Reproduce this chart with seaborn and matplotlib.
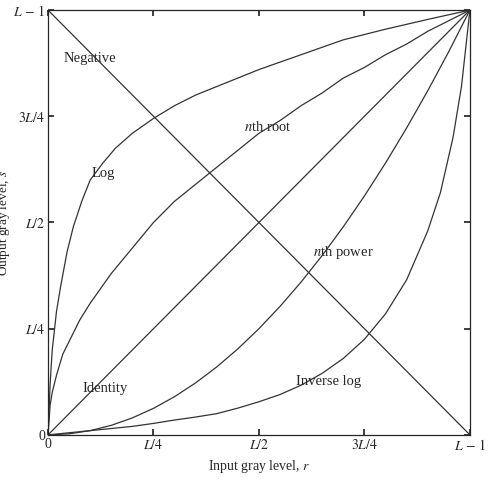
import matplotlib
matplotlib.use("Agg")
import matplotlib.pyplot as plt
import seaborn as sns

sns.set_theme(style="ticks")
plt.rcParams['font.family'] = ['Liberation Serif', 'DejaVu Serif']
plt.rcParams['mathtext.fontset'] = 'stix'

# values (r and s as fractions of L-1)
log_r = [0, 0.005, 0.01, 0.02, 0.03, 0.045, 0.06, 0.08, 0.1, 0.13, 0.16, 0.2, 0.25,
         0.3, 0.35, 0.4, 0.45, 0.5, 0.6, 0.7, 0.8, 0.9, 1.0]
log_s = [0, 0.12, 0.2, 0.29, 0.35, 0.43, 0.49, 0.55, 0.6, 0.64, 0.675, 0.71, 0.745,
         0.775, 0.8, 0.82, 0.84, 0.86, 0.895, 0.93, 0.955, 0.978, 1.0]

root_r = [0, 0.005, 0.01, 0.02, 0.035, 0.05, 0.075, 0.1, 0.15, 0.2, 0.25, 0.3, 0.35,
          0.4, 0.45, 0.5, 0.55, 0.6, 0.65, 0.7, 0.75, 0.8, 0.85, 0.9, 0.95, 1.0]
root_s = [0, 0.07, 0.1, 0.14, 0.19, 0.22, 0.27, 0.31, 0.38, 0.44, 0.5, 0.55, 0.59,
          0.63, 0.67, 0.71, 0.74, 0.775, 0.805, 0.84, 0.865, 0.895, 0.92, 0.95, 0.975, 1.0]

power_r = [0, 0.05, 0.1, 0.15, 0.2, 0.25, 0.3, 0.35, 0.4, 0.45, 0.5, 0.55, 0.6,
           0.65, 0.7, 0.75, 0.8, 0.85, 0.9, 0.95, 1.0]
power_s = [0, 0.0025, 0.01, 0.0225, 0.04, 0.0625, 0.09, 0.1225, 0.16, 0.2025, 0.25,
           0.3025, 0.36, 0.4225, 0.49, 0.5625, 0.64, 0.7225, 0.81, 0.9025, 1.0]

invlog_r = [0, 0.05, 0.1, 0.15, 0.2, 0.25, 0.3, 0.35, 0.4, 0.45, 0.5, 0.55, 0.6,
            0.65, 0.7, 0.75, 0.8, 0.85, 0.9, 0.93, 0.96, 0.98, 1.0]
invlog_s = [0, 0.005, 0.01, 0.015, 0.02, 0.027, 0.035, 0.042, 0.05, 0.063, 0.078,
            0.095, 0.117, 0.145, 0.18, 0.225, 0.285, 0.365, 0.48, 0.57, 0.7, 0.82, 1.0]

line_r = [0, 1]
identity_s = [0, 1]
negative_s = [1, 0]

ticks = [0, 0.25, 0.5, 0.75, 1]
tick_labels = ['0', '$L/4$', '$L/2$', '$3L/4$', '$L\\,-\\,1$']

fig = plt.figure(figsize=(4.9, 4.8), dpi=100)
ax = fig.add_axes([0.098, 0.094, 0.861, 0.885])

kw = dict(color='#333333', lw=0.9, ax=ax, sort=False)
sns.lineplot(x=line_r, y=negative_s, **kw)
sns.lineplot(x=line_r, y=identity_s, **kw)
sns.lineplot(x=log_r, y=log_s, **kw)
sns.lineplot(x=root_r, y=root_s, **kw)
sns.lineplot(x=power_r, y=power_s, **kw)
sns.lineplot(x=invlog_r, y=invlog_s, **kw)

ax.set_xlim(0, 1)
ax.set_ylim(0, 1)
ax.set_xticks(ticks)
ax.set_xticklabels(tick_labels)
ax.set_yticks(ticks)
ax.set_yticklabels(tick_labels)
ax.tick_params(direction='in', length=4, labelsize=10, top=True, right=True, pad=2)
for sp in ax.spines.values():
    sp.set_visible(True)
    sp.set_linewidth(0.9)

ax.set_xlabel('Input gray level, $r$', fontsize=10)
ax.set_ylabel('Output gray level, $s$', fontsize=9.5, labelpad=1)

fs = 10.5
ax.text(0.1, 0.885, 'Negative', fontsize=fs, ha='center', va='center')
ax.text(0.13, 0.615, 'Log', fontsize=fs, ha='center', va='center')
ax.text(0.52, 0.725, '$n$th root', fontsize=fs, ha='center', va='center')
ax.text(0.7, 0.43, '$n$th power', fontsize=fs, ha='center', va='center')
ax.text(0.135, 0.11, 'Identity', fontsize=fs, ha='center', va='center')
ax.text(0.665, 0.126, 'Inverse log', fontsize=fs, ha='center', va='center')

fig.savefig('out.png', dpi=100)
